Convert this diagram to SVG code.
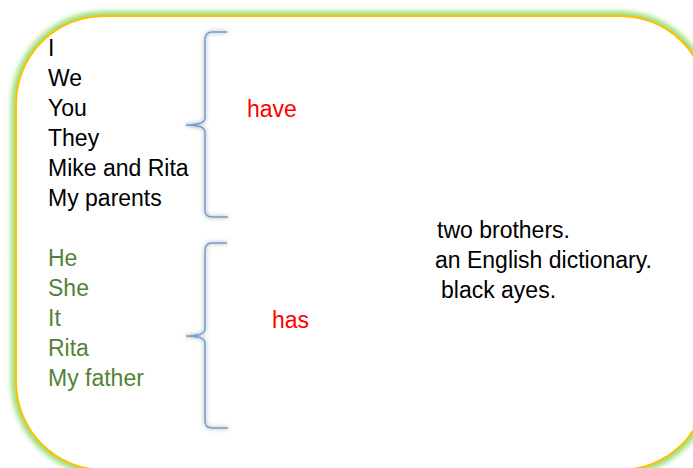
<svg xmlns="http://www.w3.org/2000/svg" width="693" height="468" viewBox="0 0 693 468">
<defs>
<filter id="glow" x="-10%" y="-10%" width="120%" height="120%"><feGaussianBlur stdDeviation="2.5"/></filter>
<filter id="shadow" x="-50%" y="-10%" width="200%" height="120%"><feDropShadow dx="0" dy="0" stdDeviation="2.2" flood-color="#707070" flood-opacity="0.8"/></filter>
<style>
text{font-family:"Liberation Sans",Arial,sans-serif;font-size:23px}
.blk{fill:#000}
.grn{fill:#548235}
.red{fill:#ff0000}
.brace{fill:none;stroke:#6f9fd4;stroke-width:1.5}
</style>
</defs>
<rect x="0" y="0" width="693" height="468" fill="#fff"/>
<g id="frame">
<rect x="16" y="16" width="692" height="454" rx="88" ry="88" fill="none" stroke="#9ede7c" stroke-width="10" filter="url(#glow)"/>
<rect x="16" y="16" width="692" height="454" rx="88" ry="88" fill="#fff" stroke="#ffc000" stroke-width="2"/>
</g>
<g id="group-have">
<text class="blk" x="48" y="56">I</text>
<text class="blk" x="48" y="86">We</text>
<text class="blk" x="48" y="116">You</text>
<text class="blk" x="48" y="146">They</text>
<text class="blk" x="48" y="176">Mike and Rita</text>
<text class="blk" x="48" y="206">My parents</text>
</g>
<g id="group-has">
<text class="grn" x="48" y="266">He</text>
<text class="grn" x="48" y="296">She</text>
<text class="grn" x="48" y="326">It</text>
<text class="grn" x="48" y="356">Rita</text>
<text class="grn" x="48" y="386">My father</text>
</g>
<g id="connectors">
<path class="brace" filter="url(#shadow)" d="M227,32 L212,32 Q205,32 205,40 L205,118 Q205,125 186,125 Q205,125 205,132 L205,210 Q205,217 212,217 L228,217"/>
<path class="brace" filter="url(#shadow)" d="M227,243 L212,243 Q205,243 205,251 L205,329 Q205,336 186,336 Q205,336 205,343 L205,421 Q205,428 212,428 L228,428"/>
</g>
<g id="verb-have"><text class="red" x="247" y="117">have</text></g>
<g id="verb-has"><text class="red" x="272" y="328">has</text></g>
<g id="objects">
<text class="blk" x="437" y="238">two brothers.</text>
<text class="blk" x="435" y="268">an English dictionary.</text>
<text class="blk" x="441" y="298">black ayes.</text>
</g>
</svg>
